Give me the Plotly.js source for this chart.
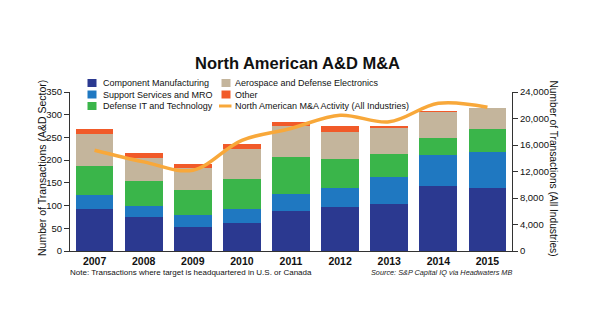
<!DOCTYPE html>
<html><head><meta charset="utf-8">
<script src="https://cdn.plot.ly/plotly-3.0.1.min.js"></script>
<style>html,body{margin:0;padding:0;background:#fff}#chart{width:595px;height:335px}</style>
</head><body><div id="chart"></div>
<script>
const years = ['2007','2008','2009','2010','2011','2012','2013','2014','2015'];
const componentMfg = [93, 75, 52, 62, 89, 96, 104, 144, 139];
const supportMRO   = [31, 23, 28, 30, 37, 42, 59, 67, 79];
const defenseIT    = [63, 55, 54, 66, 82, 64, 50, 38, 50];
const aeroElec     = [70, 52, 49, 67, 67, 60, 58, 57, 47];
const other        = [12, 10, 8, 10, 9, 13, 5, 3, 0];
const allIndustries = [15200, 13450, 12200, 16700, 18500, 20500, 19500, 22300, 21700];

const FONT = '"Liberation Sans", Arial, sans-serif';
const barNames = ['Component Manufacturing','Support Services and MRO','Defense IT and Technology','Aerospace and Defense Electronics','Other'];
const lineName = 'North American M&A Activity (All Industries)';
const barData = [componentMfg, supportMRO, defenseIT, aeroElec, other];
const barColors = ['#2b3990','#1f78c1','#3ab54a','#c4b59c','#f15a29'];
const lineColor = '#f8a83a';

const traces = barData.map((d,i)=>({
  type:'bar', x:years, y:d, name:barNames[i], marker:{color:barColors[i]},
  showlegend:false, hoverinfo:'y'
}));
traces.push({
  type:'scatter', mode:'lines', x:years, y:allIndustries, yaxis:'y2',
  name:lineName, showlegend:false,
  line:{color:lineColor, width:3.5, shape:'spline', smoothing:1}
});

// plot area in pixels
const L = 70, R = 83, T = 92, B = 84, W = 595, H = 335;
const pw = W-L-R, ph = H-T-B;
const px = v => (v-L)/pw;
const py = v => (H-B-v)/ph;

// custom compact legend (two columns)
const shapes = [], annotations = [];
const legendItems = [
  {name:barNames[0], color:barColors[0], col:0, row:0, kind:'box'},
  {name:barNames[1], color:barColors[1], col:0, row:1, kind:'box'},
  {name:barNames[2], color:barColors[2], col:0, row:2, kind:'box'},
  {name:barNames[3], color:barColors[3], col:1, row:0, kind:'box'},
  {name:barNames[4], color:barColors[4], col:1, row:1, kind:'box'},
  {name:lineName,    color:lineColor,    col:1, row:2, kind:'line'}
];
const colX = [87.5, 221.5], textX = [100.5, 233], rowY = [83, 94.5, 106];
legendItems.forEach(it=>{
  const x0 = colX[it.col], yc = rowY[it.row];
  if (it.kind==='box') {
    shapes.push({type:'rect', xref:'paper', yref:'paper', x0:px(x0), x1:px(x0+9), y0:py(yc+4), y1:py(yc-4),
                 fillcolor:it.color, line:{width:0}});
  } else {
    shapes.push({type:'line', xref:'paper', yref:'paper', x0:px(x0-2.5), x1:px(x0+10), y0:py(yc), y1:py(yc),
                 line:{color:it.color, width:3}});
  }
  annotations.push({text:it.name, xref:'paper', yref:'paper', x:px(textX[it.col]), y:py(yc),
                    xanchor:'left', yanchor:'middle', showarrow:false, font:{size:9, color:'#111'}});
});

annotations.push(
  {text:'Number of Transactions (A&D Sector)', textangle:-90, xref:'paper', yref:'paper',
   x:px(42), y:py(168), xanchor:'center', yanchor:'middle', showarrow:false,
   font:{size:10.5, color:'#111'}},
  {text:'Number of Transactions (All Industries)', textangle:90, xref:'paper', yref:'paper',
   x:px(553), y:py(168.5), xanchor:'center', yanchor:'middle', showarrow:false,
   font:{size:10.2, color:'#111'}},
  {text:'Note: Transactions where target is headquartered in U.S. or Canada', xref:'paper', yref:'paper',
   x:px(68), y:py(272.5), xanchor:'left', yanchor:'middle', showarrow:false, font:{size:8, color:'#111'}},
  {text:'<i>Source: S&P Capital IQ via Headwaters MB</i>', xref:'paper', yref:'paper',
   x:px(514), y:py(272.5), xanchor:'right', yanchor:'middle', showarrow:false, font:{size:7.3, color:'#222'}}
);

const layout = {
  width:W, height:H,
  margin:{l:L, r:R, t:T, b:B},
  paper_bgcolor:'#fff', plot_bgcolor:'#fff',
  barmode:'stack', bargap:0.23,
  font:{family:FONT, size:10, color:'#111'},
  showlegend:false,
  title:{text:'<b>North American A&D M&A</b>', x:0.5, xanchor:'center', xref:'container',
         y:1-63/H, yanchor:'middle', yref:'container',
         font:{family:FONT, size:16.5, color:'#111'}},
  xaxis:{type:'category', showline:true, linecolor:'#333', linewidth:1, ticks:'', showgrid:false,
         tickfont:{size:10.5, color:'#111', weight:'bold'}},
  yaxis:{range:[0,350], dtick:50, showline:true, linecolor:'#333', linewidth:1, ticks:'outside',
         ticklen:5, tickcolor:'#333', showgrid:false, zeroline:false, tickfont:{size:9.5}},
  yaxis2:{range:[0,24000], dtick:4000, overlaying:'y', side:'right', showline:true, linecolor:'#333',
          linewidth:1, ticks:'outside', ticklen:5, tickcolor:'#333', showgrid:false, zeroline:false,
          tickformat:',d', tickfont:{size:9.5}},
  shapes:shapes,
  annotations:annotations
};
Plotly.newPlot('chart', traces, layout, {displayModeBar:false, staticPlot:true});
</script></body></html>
